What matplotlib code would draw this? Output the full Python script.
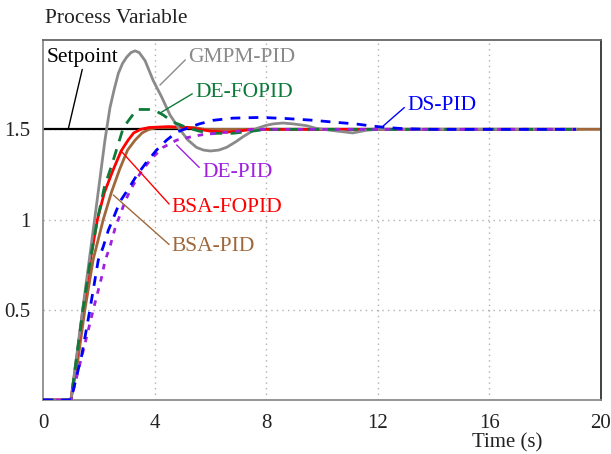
import numpy as np
import matplotlib
matplotlib.use('Agg')
import matplotlib.pyplot as plt

plt.rcParams['font.family'] = ['Liberation Serif', 'DejaVu Serif']

# 设定值
setpoint_t = [0, 20]
setpoint_y = [1.5, 1.5]

# GMPM-PID 曲线
gmpm_t = [0, 1.0, 1.42, 1.85, 2.22, 2.28, 2.4, 2.55, 2.7, 2.85, 3.0, 3.15, 3.3, 3.45,
          3.66, 3.95, 4.25, 4.55, 4.85, 5.2, 5.5, 5.75, 6.0, 6.3, 6.58, 6.9, 7.18, 7.66,
          8.0, 8.25, 8.6, 8.97, 9.45, 9.8, 10.3, 11.1, 11.6, 12.0, 19.1]
gmpm_y = [0, 0, 0.5, 1.0, 1.44, 1.5, 1.62, 1.72, 1.81, 1.865, 1.90, 1.925, 1.935, 1.925,
          1.88, 1.77, 1.68, 1.58, 1.51, 1.44, 1.40, 1.385, 1.38, 1.385, 1.40, 1.43, 1.46,
          1.505, 1.522, 1.53, 1.535, 1.53, 1.52, 1.505, 1.495, 1.48, 1.495, 1.5, 1.5]

# DE-FOPID 曲线
defo_t = [0, 1.0, 1.43, 1.7, 1.95, 2.2, 2.46, 2.64, 2.88, 3.12, 3.36, 3.95, 4.3, 4.67,
          5.15, 5.6, 6.1, 6.8, 7.5, 8.0, 19.1]
defo_y = [0, 0, 0.5, 0.78, 1.0, 1.18, 1.3, 1.39, 1.51, 1.56, 1.61, 1.61, 1.58, 1.54,
          1.51, 1.49, 1.478, 1.478, 1.49, 1.5, 1.5]

# DS-PID 曲线
ds_t = [0, 1.0, 1.39, 1.68, 1.98, 2.16, 2.34, 2.5, 2.76, 3.06, 3.36, 3.72, 4.07, 4.43,
        4.8, 5.15, 5.6, 6.1, 6.8, 7.8, 8.7, 9.7, 10.4, 11.2, 11.7, 12.3, 13.0, 14.0, 19.1]
ds_y = [0, 0, 0.25, 0.5, 0.775, 0.85, 0.94, 1.0, 1.1, 1.17, 1.245, 1.32, 1.385, 1.44,
        1.485, 1.505, 1.53, 1.55, 1.562, 1.566, 1.56, 1.55, 1.54, 1.53, 1.52, 1.51, 1.503,
        1.5, 1.5]

# DE-PID 曲线
depid_t = [0, 1.0, 1.5, 1.8, 2.1, 2.22, 2.4, 2.58, 2.7, 2.94, 3.15, 3.48, 3.84, 4.3,
           4.79, 5.2, 5.7, 6.2, 7.0, 7.5, 19.1]
depid_y = [0, 0, 0.31, 0.5, 0.68, 0.77, 0.85, 0.95, 1.0, 1.1, 1.17, 1.255, 1.33, 1.40,
           1.44, 1.455, 1.47, 1.478, 1.49, 1.5, 1.5]

# BSA-FOPID 曲线
bsafo_t = [0, 1.0, 1.2, 1.43, 1.7, 1.95, 2.2, 2.5, 2.8, 3.05, 3.25, 3.5, 3.8, 4.5,
           5.2, 5.6, 6.0, 6.6, 7.0, 7.5, 19.1]
bsafo_y = [0, 0, 0.22, 0.5, 0.78, 1.0, 1.15, 1.27, 1.38, 1.44, 1.48, 1.5, 1.51, 1.515,
           1.51, 1.5, 1.49, 1.485, 1.49, 1.5, 1.5]

# BSA-PID 曲线
bsa_t = [0, 1.0, 1.25, 1.5, 1.8, 2.16, 2.45, 2.75, 3.03, 3.3, 3.55, 3.8, 4.1, 5.4, 5.8, 20]
bsa_y = [0, 0, 0.22, 0.5, 0.78, 1.0, 1.15, 1.28, 1.385, 1.44, 1.48, 1.5, 1.51, 1.51, 1.5, 1.5]

x_ticks = [0, 4, 8, 12, 16, 20]
y_ticks = [0.5, 1, 1.5]

fig = plt.figure(figsize=(6.11, 4.54), dpi=100)
ax = fig.add_axes([0.0704, 0.1189, 0.9132, 0.793])

# 网格
for xv in x_ticks[1:-1]:
    ax.axvline(xv, color='#b0b0b0', lw=1, ls=(0, (1, 3)), zorder=0)
for yv in y_ticks:
    ax.axhline(yv, color='#b0b0b0', lw=1, ls=(0, (1, 3)), zorder=0)

ax.plot(setpoint_t, setpoint_y, color='black', lw=1.6, zorder=1)
ax.plot(bsa_t, bsa_y, color='#a0683a', lw=2, zorder=2)
ax.plot(bsafo_t, bsafo_y, color='#ff0000', lw=2, zorder=3)
ax.plot(gmpm_t, gmpm_y, color='#8a8a8a', lw=2, zorder=3)
ax.plot(defo_t, defo_y, color='#0d7a3a', lw=2, ls=(0, (4, 3)), zorder=4)
ax.plot(depid_t, depid_y, color='#a020e0', lw=2, ls=(0, (2, 2.5)), zorder=4)
ax.plot(ds_t, ds_y, color='#0000ff', lw=2, ls=(0, (3.5, 3)), zorder=5)

ax.set_xlim(0, 20)
ax.set_ylim(0, 1.995)
ax.set_xticks(x_ticks)
ax.set_yticks(y_ticks)
ax.set_yticklabels(['0.5', '1', '1.5'])
ax.tick_params(length=0, labelsize=15, colors='#222222')
ax.tick_params(axis='x', pad=10)
ax.tick_params(axis='y', pad=9)

ax.spines['left'].set_color('#8c8c8c')
ax.spines['bottom'].set_color('#8c8c8c')
ax.spines['top'].set_color('#666666')
ax.spines['right'].set_color('#333333')
for s in ax.spines.values():
    s.set_linewidth(1.3)

ax.text(0.004, 1.061, 'Process Variable', transform=ax.transAxes, fontsize=15.5,
        ha='left', va='center', color='#222222')
ax.text(0.832, -0.12, 'Time (s)', transform=ax.transAxes, fontsize=15,
        ha='center', va='center', color='#222222')

# 标注
def label(txt, xy, xytext, color, relpos=(0, 0.5), ha='left'):
    ax.annotate(txt, xy=xy, xytext=xytext, color=color, fontsize=15.5,
                ha=ha, va='center', zorder=6,
                arrowprops=dict(arrowstyle='-', color=color, lw=1,
                                shrinkA=0, shrinkB=0, relpos=relpos))

label('Setpoint', (0.91, 1.505), (1.43, 1.90), 'black', relpos=(0.5, 0), ha='center')
label('GMPM-PID', (4.19, 1.745), (5.2, 1.90), '#8a8a8a')
label('DE-FOPID', (4.17, 1.588), (5.45, 1.706), '#0d7a3a')
label('DS-PID', (12.19, 1.518), (13.05, 1.634), '#0000ff')
label('DE-PID', (4.79, 1.413), (5.7, 1.263), '#a020e0', relpos=(0, 0.6))
label('BSA-FOPID', (2.82, 1.376), (4.62, 1.069), '#ff0000')
label('BSA-PID', (2.52, 1.136), (4.62, 0.848), '#a0683a')

plt.savefig('out.png', dpi=100)
